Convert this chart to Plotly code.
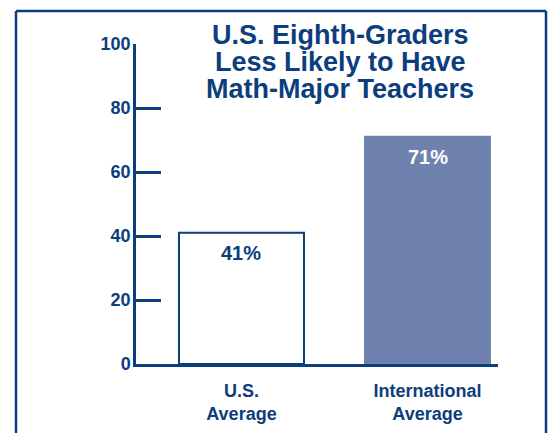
import plotly.graph_objects as go

categories = ["U.S.<br>Average", "International<br>Average"]
values = [41, 71]
value_labels = ["41%", "71%"]
y_ticks = [0, 20, 40, 60, 80, 100]
title_lines = ["U.S. Eighth-Graders", "Less Likely to Have", "Math-Major Teachers"]

DARK = "#0c3d7c"
BAR = "#6f81ae"
FONT = "Liberation Sans, Arial, sans-serif"

W, H = 553, 433
L, R, T, B = 136, 55, 44, 69
PW, PH = W - L - R, H - T - B


def px_x(p):
    return (p - L) / PW


def px_y(p):
    return (H - B - p) / PH


fig = go.Figure()
fig.add_trace(go.Bar(
    x=[0, 1], y=values,
    width=0.672,
    marker=dict(color=["white", BAR], line=dict(color=[DARK, BAR], width=2)),
    hoverinfo="skip",
))

annotations = []
for i, (v, lab) in enumerate(zip(values, value_labels)):
    annotations.append(dict(
        x=i, y=v, xref="x", yref="y", text=lab, showarrow=False,
        yanchor="middle", yshift=-20,
        font=dict(family=FONT, size=20, color=DARK if i == 0 else "white", weight="bold"),
    ))
for line, yc in zip(title_lines, [35, 62, 89]):
    annotations.append(dict(
        x=px_x(340), y=px_y(yc), xref="paper", yref="paper", text=line,
        showarrow=False, xanchor="center", yanchor="middle",
        font=dict(family=FONT, size=27, color=DARK, weight="bold"),
    ))

frame = dict(type="line", xref="paper", yref="paper", line=dict(color=DARK, width=2.5), layer="above")
shapes = [
    dict(frame, x0=px_x(16), x1=px_x(16), y0=px_y(11), y1=px_y(440)),
    dict(frame, x0=px_x(546), x1=px_x(546), y0=px_y(11), y1=px_y(440)),
    dict(frame, x0=px_x(16), x1=px_x(546), y0=px_y(11), y1=px_y(11)),
]

fig.update_layout(
    width=W, height=H,
    margin=dict(l=L, r=R, t=T, b=B, pad=0, autoexpand=False),
    paper_bgcolor="white", plot_bgcolor="white",
    showlegend=False,
    annotations=annotations,
    shapes=shapes,
    xaxis=dict(
        range=[-0.567, 1.379],
        tickvals=[0, 1], ticktext=categories,
        showgrid=False, zeroline=False,
        showline=True, linecolor=DARK, linewidth=3,
        ticks="", ticklabelstandoff=8, automargin=False,
        tickfont=dict(family=FONT, size=18, color=DARK, weight="bold"),
        fixedrange=True,
    ),
    yaxis=dict(
        range=[0, 100],
        tickvals=y_ticks,
        showgrid=False, zeroline=False,
        showline=True, linecolor=DARK, linewidth=2.5,
        ticks="inside", ticklen=25, tickwidth=2.5, tickcolor=DARK,
        ticklabelstandoff=-1, automargin=False,
        tickfont=dict(family=FONT, size=18, color=DARK, weight="bold"),
        fixedrange=True,
    ),
)

fig.write_html(
    "out.html",
    config={"displayModeBar": False},
    post_script="document.body.style.margin='0';document.body.style.overflow='hidden';",
)
